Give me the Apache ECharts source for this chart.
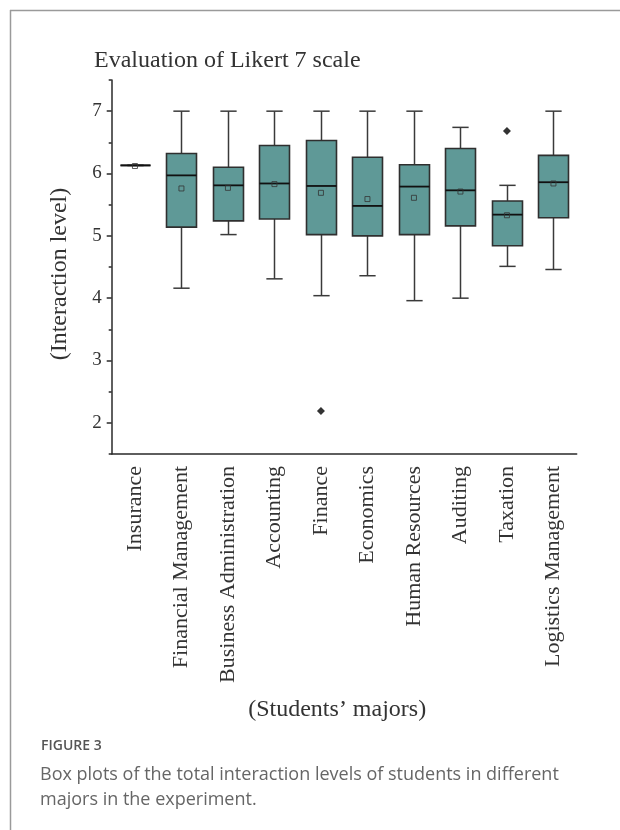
<!DOCTYPE html>
<html><head><meta charset="utf-8">
<script src="https://cdn.jsdelivr.net/npm/echarts@6/dist/echarts.min.js"></script>
<style>html,body{margin:0;padding:0;background:#fff}#c{width:620px;height:830px}</style>
</head><body><div id="c"></div>
<script>
const categories = ['Insurance','Financial Management','Business Administration','Accounting','Finance','Economics','Human Resources','Auditing','Taxation','Logistics Management'];
const whiskerLow  = [6.13, 4.16, 5.02, 4.31, 4.04, 4.36, 3.96, 4.00, 4.51, 4.46];
const q1          = [6.13, 5.14, 5.24, 5.27, 5.02, 5.00, 5.02, 5.16, 4.84, 5.29];
const median      = [6.13, 5.97, 5.81, 5.84, 5.80, 5.48, 5.79, 5.73, 5.34, 5.86];
const q3          = [6.13, 6.32, 6.10, 6.45, 6.53, 6.26, 6.14, 6.40, 5.56, 6.29];
const whiskerHigh = [6.13, 7.00, 7.00, 7.00, 7.00, 7.00, 7.00, 6.74, 5.81, 7.00];
const means       = [6.12, 5.76, 5.77, 5.83, 5.69, 5.59, 5.61, 5.71, 5.33, 5.84];
const outlierCategories = ['Finance', 'Taxation'];
const outlierValues = [2.19, 6.68];
const yTickLabels = [2, 3, 4, 5, 6, 7];
const yMinorTicks = [1.5, 2.5, 3.5, 4.5, 5.5, 6.5, 7.5];

const boxData = categories.map((c, i) => [i, whiskerLow[i], q1[i], median[i], q3[i], whiskerHigh[i]]);
const meanData = categories.map((c, i) => [i, means[i]]);
const outlierData = outlierCategories.map((c, k) => [categories.indexOf(c), outlierValues[k]]);

const serif = 'Liberation Serif, Times New Roman, serif';
const sans = 'Open Sans, Noto Sans, sans-serif';
const ink = '#2a2a2a';

const chart = echarts.init(document.getElementById('c'), null, {renderer: 'canvas'});
chart.setOption({
  backgroundColor: '#ffffff',
  animation: false,
  title: {
    text: 'Evaluation of Likert 7 scale',
    left: 89, top: 44,
    textStyle: {fontFamily: serif, fontSize: 24, fontWeight: 'normal', color: '#333'}
  },
  grid: {left: 111.7, right: 43.3, top: 80, bottom: 376},
  xAxis: {
    type: 'category',
    data: categories,
    boundaryGap: true,
    axisLine: {lineStyle: {color: ink, width: 1.5}},
    axisTick: {alignWithLabel: true, length: 5, lineStyle: {color: ink, width: 1.5}},
    axisLabel: {rotate: 90, margin: 12, fontFamily: serif, fontSize: 22, color: '#333'},
    splitLine: {show: false},
    name: '(Students\u2019 majors)',
    nameLocation: 'middle',
    nameGap: 244,
    nameTextStyle: {fontFamily: serif, fontSize: 24, color: '#333', padding: [0, 14, 0, 0]}
  },
  yAxis: [{
    type: 'value',
    min: 1.5, max: 7.5,
    axisLine: {show: true, lineStyle: {color: ink, width: 1.5}},
    axisTick: {show: true, length: 5, customValues: yTickLabels, lineStyle: {color: ink, width: 1.5}},
    axisLabel: {customValues: yTickLabels, margin: 10, fontFamily: serif, fontSize: 19, color: '#333'},
    splitLine: {show: false},
    name: '(Interaction level)',
    nameLocation: 'middle',
    nameGap: 40,
    nameTextStyle: {fontFamily: serif, fontSize: 24, color: '#333', padding: [0, 14, 0, 0]}
  }, {
    type: 'value',
    min: 1.5, max: 7.5,
    position: 'left',
    axisLine: {show: false},
    axisTick: {show: true, length: 3, customValues: yMinorTicks, lineStyle: {color: ink, width: 1.5}},
    axisLabel: {show: false},
    splitLine: {show: false}
  }],
  series: [{
    type: 'custom',
    xAxisIndex: 0, yAxisIndex: 0,
    data: boxData,
    encode: {x: 0, y: [1, 2, 3, 4, 5]},
    renderItem: function (params, api) {
      const i = api.value(0);
      const pLow = api.coord([i, api.value(1)]);
      const pQ1 = api.coord([i, api.value(2)]);
      const pMed = api.coord([i, api.value(3)]);
      const pQ3 = api.coord([i, api.value(4)]);
      const pHigh = api.coord([i, api.value(5)]);
      const band = api.size([1, 0])[0];
      const half = band * 0.645 / 2;
      const cap = band * 0.175;
      const x = Math.round(pQ1[0]) + 0.5;
      const lineStyle = {stroke: '#3a3a3a', lineWidth: 1.5, fill: null};
      return {
        type: 'group',
        children: [
          {type: 'line', shape: {x1: x, y1: pHigh[1], x2: x, y2: pQ3[1]}, style: lineStyle},
          {type: 'line', shape: {x1: x, y1: pLow[1], x2: x, y2: pQ1[1]}, style: lineStyle},
          {type: 'line', shape: {x1: x - cap, y1: pHigh[1], x2: x + cap, y2: pHigh[1]}, style: lineStyle},
          {type: 'line', shape: {x1: x - cap, y1: pLow[1], x2: x + cap, y2: pLow[1]}, style: lineStyle},
          {type: 'rect', shape: {x: x - half, y: pQ3[1], width: half * 2, height: pQ1[1] - pQ3[1]},
            style: {fill: '#5f9997', stroke: '#2f2f2f', lineWidth: 1.6}},
          {type: 'line', shape: {x1: x - half, y1: pMed[1], x2: x + half, y2: pMed[1]},
            style: {stroke: '#111', lineWidth: 1.8}}
        ]
      };
    },
    z: 2
  }, {
    type: 'scatter',
    xAxisIndex: 0, yAxisIndex: 0,
    data: meanData,
    symbol: 'rect',
    symbolSize: 5,
    itemStyle: {color: 'rgba(0,0,0,0)', borderColor: '#333', borderWidth: 1},
    z: 3
  }, {
    type: 'scatter',
    xAxisIndex: 0, yAxisIndex: 0,
    data: outlierData,
    symbol: 'diamond',
    symbolSize: 8,
    itemStyle: {color: '#000'},
    z: 3
  }],
  graphic: [
    {type: 'line', shape: {x1: 10, y1: 10.5, x2: 620, y2: 10.5}, style: {stroke: '#9a9a9a', lineWidth: 1.5}},
    {type: 'line', shape: {x1: 10.5, y1: 10, x2: 10.5, y2: 830}, style: {stroke: '#9a9a9a', lineWidth: 1.5}},
    {type: 'text', left: 41, top: 739, style: {text: 'FIGURE 3', font: '600 14px ' + sans, fill: '#555'}},
    {type: 'text', left: 40, top: 766, style: {text: 'Box plots of the total interaction levels of students in different', font: '18px ' + sans, fill: '#666'}},
    {type: 'text', left: 40, top: 791, style: {text: 'majors in the experiment.', font: '18px ' + sans, fill: '#666'}}
  ]
});
</script>
</body></html>
